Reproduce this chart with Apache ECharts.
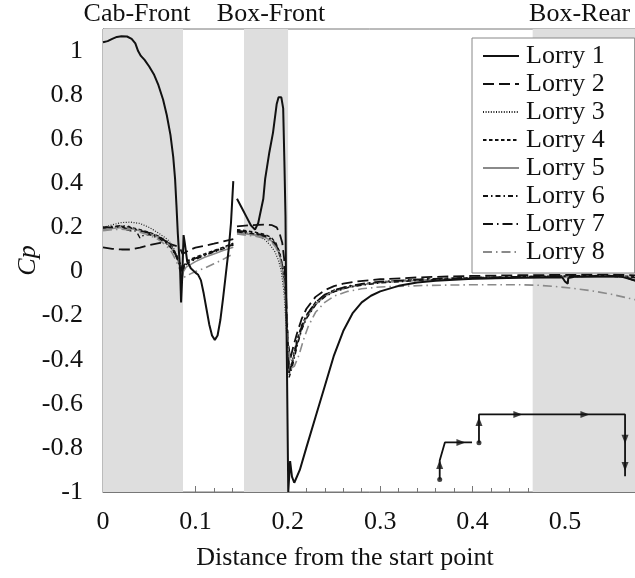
<!DOCTYPE html>
<html>
<head>
<meta charset="utf-8">
<script src="https://cdn.jsdelivr.net/npm/echarts@6/dist/echarts.min.js"></script>
<style>html,body{margin:0;padding:0;background:#fff;}#chart{width:635px;height:578px;}</style>
</head>
<body>
<div id="chart"></div>
<script>
// ---------- data ----------
const seriesNames = ['Lorry 1','Lorry 2','Lorry 3','Lorry 4','Lorry 5','Lorry 6','Lorry 7','Lorry 8'];
const xTickLabels = [0, 0.1, 0.2, 0.3, 0.4, 0.5];
const yTickLabels = [-1, -0.8, -0.6, -0.4, -0.2, 0, 0.2, 0.4, 0.6, 0.8, 1];
const regions = [['Cab-Front', 0, 0.0866], ['Box-Front', 0.1526, 0.2003], ['Box-Rear', 0.465, 0.6]];

const lorry1 = [[0,1.04],[0.005,1.045],[0.01,1.055],[0.015,1.064],[0.02,1.067],[0.026,1.066],[0.031,1.055],[0.035,1.035],[0.038,1.0],[0.041,0.978],[0.045,0.96],[0.05,0.93],[0.055,0.895],[0.06,0.845],[0.065,0.78],[0.069,0.71],[0.073,0.62],[0.076,0.52],[0.078,0.42],[0.0795,0.3],[0.081,0.17],[0.0825,0.07],[0.0835,0.0],[0.0845,-0.14],[0.0858,-0.02],[0.0872,0.165],[0.0885,0.13],[0.091,0.05],[0.095,0.015],[0.1,-0.005],[0.103,-0.015],[0.106,-0.04],[0.109,-0.1],[0.112,-0.17],[0.115,-0.24],[0.118,-0.29],[0.121,-0.31],[0.124,-0.29],[0.127,-0.22],[0.13,-0.12],[0.133,-0.01],[0.136,0.1],[0.1385,0.22],[0.141,0.41],[0.143,null],[0.145,0.33],[0.15,0.29],[0.155,0.25],[0.16,0.21],[0.1645,0.19],[0.168,0.22],[0.171,0.28],[0.1735,0.33],[0.1755,0.42],[0.18,0.54],[0.184,0.63],[0.188,0.76],[0.19,0.79],[0.193,0.79],[0.195,0.74],[0.1963,0.5],[0.1975,0.25],[0.198,0.0],[0.199,-0.4],[0.2,-0.8],[0.2005,-1.0],[0.2025,-0.86],[0.2045,-0.93],[0.207,-0.958],[0.213,-0.9],[0.22,-0.8],[0.23,-0.66],[0.24,-0.52],[0.25,-0.38],[0.26,-0.27],[0.27,-0.19],[0.28,-0.14],[0.29,-0.11],[0.3,-0.09],[0.32,-0.065],[0.34,-0.05],[0.36,-0.042],[0.4,-0.033],[0.45,-0.028],[0.497,-0.026],[0.5,-0.045],[0.503,-0.055],[0.5035,-0.03],[0.51,-0.024],[0.56,-0.022],[0.575,-0.04],[0.584,-0.05]];
const lorry2 = [[0,0.11],[0.01,0.103],[0.02,0.1],[0.03,0.1],[0.04,0.108],[0.05,0.12],[0.062,0.13],[0.072,0.125],[0.08,0.115],[0.084,0.1],[0.086,0.08],[0.088,0.085],[0.095,0.1],[0.1,0.108],[0.11,0.117],[0.12,0.126],[0.13,0.136],[0.141,0.147],[0.143,null],[0.145,0.205],[0.16,0.21],[0.175,0.213],[0.183,0.21],[0.188,0.2],[0.191,0.175],[0.194,0.13],[0.196,0.06],[0.198,-0.1],[0.2,-0.3],[0.2025,-0.4],[0.206,-0.34],[0.21,-0.28],[0.215,-0.215],[0.22,-0.17],[0.23,-0.115],[0.24,-0.085],[0.25,-0.066],[0.26,-0.055],[0.275,-0.045],[0.3,-0.035],[0.35,-0.025],[0.4,-0.02],[0.45,-0.017],[0.5,-0.015],[0.55,-0.014],[0.584,-0.018]];
const lorry3 = [[0,0.2],[0.01,0.212],[0.02,0.222],[0.03,0.224],[0.04,0.218],[0.05,0.2],[0.058,0.18],[0.065,0.16],[0.07,0.145],[0.075,0.12],[0.079,0.08],[0.082,0.045],[0.085,0.025],[0.088,0.03],[0.092,0.045],[0.1,0.06],[0.11,0.075],[0.12,0.09],[0.13,0.105],[0.141,0.125],[0.143,null],[0.145,0.18],[0.155,0.175],[0.165,0.165],[0.175,0.145],[0.181,0.12],[0.186,0.09],[0.19,0.05],[0.193,0.0],[0.196,-0.1],[0.199,-0.3],[0.2015,-0.47],[0.205,-0.42],[0.21,-0.33],[0.215,-0.26],[0.22,-0.21],[0.23,-0.15],[0.24,-0.11],[0.25,-0.09],[0.265,-0.072],[0.28,-0.06],[0.3,-0.05],[0.35,-0.037],[0.4,-0.03],[0.45,-0.025],[0.5,-0.022],[0.55,-0.02],[0.584,-0.03]];
const lorry4 = [[0,0.195],[0.01,0.2],[0.02,0.205],[0.03,0.2],[0.04,0.19],[0.05,0.178],[0.06,0.16],[0.068,0.14],[0.074,0.115],[0.079,0.08],[0.083,0.04],[0.086,0.01],[0.088,0.03],[0.092,0.05],[0.1,0.065],[0.11,0.08],[0.12,0.095],[0.13,0.11],[0.141,0.128],[0.143,null],[0.145,0.19],[0.155,0.185],[0.165,0.178],[0.175,0.168],[0.182,0.155],[0.187,0.13],[0.191,0.09],[0.194,0.03],[0.197,-0.06],[0.199,-0.25],[0.2015,-0.46],[0.205,-0.4],[0.21,-0.31],[0.215,-0.245],[0.22,-0.2],[0.23,-0.14],[0.24,-0.105],[0.25,-0.085],[0.265,-0.068],[0.28,-0.057],[0.3,-0.047],[0.35,-0.034],[0.4,-0.028],[0.45,-0.024],[0.5,-0.02],[0.55,-0.018],[0.584,-0.025]];
const lorry5 = [[0,0.19],[0.01,0.195],[0.02,0.2],[0.03,0.195],[0.04,0.185],[0.05,0.172],[0.06,0.155],[0.068,0.135],[0.074,0.11],[0.079,0.07],[0.083,0.03],[0.0855,-0.04],[0.087,0.0],[0.09,0.02],[0.1,0.045],[0.11,0.065],[0.12,0.08],[0.13,0.095],[0.141,0.11],[0.143,null],[0.145,0.175],[0.155,0.17],[0.165,0.165],[0.175,0.155],[0.182,0.14],[0.187,0.115],[0.191,0.08],[0.194,0.02],[0.197,-0.08],[0.199,-0.25],[0.2015,-0.45],[0.205,-0.41],[0.21,-0.33],[0.215,-0.26],[0.22,-0.21],[0.23,-0.15],[0.24,-0.112],[0.25,-0.09],[0.265,-0.072],[0.28,-0.06],[0.3,-0.05],[0.35,-0.038],[0.4,-0.032],[0.45,-0.028],[0.5,-0.025],[0.55,-0.023],[0.584,-0.03]];
const lorry6 = [[0,0.2],[0.01,0.205],[0.02,0.208],[0.028,0.205],[0.033,0.19],[0.037,0.175],[0.04,0.152],[0.044,0.165],[0.05,0.168],[0.06,0.15],[0.068,0.13],[0.074,0.105],[0.079,0.07],[0.083,0.03],[0.086,0.0],[0.088,0.02],[0.092,0.04],[0.1,0.055],[0.11,0.072],[0.12,0.088],[0.13,0.103],[0.141,0.12],[0.143,null],[0.145,0.18],[0.155,0.175],[0.165,0.17],[0.175,0.16],[0.182,0.145],[0.187,0.12],[0.191,0.08],[0.194,0.02],[0.197,-0.07],[0.199,-0.25],[0.2015,-0.48],[0.205,-0.43],[0.21,-0.34],[0.215,-0.265],[0.22,-0.215],[0.23,-0.152],[0.24,-0.115],[0.25,-0.092],[0.265,-0.073],[0.28,-0.062],[0.3,-0.052],[0.35,-0.038],[0.4,-0.031],[0.45,-0.026],[0.5,-0.023],[0.55,-0.021],[0.584,-0.03]];
const lorry7 = [[0,0.2],[0.01,0.2],[0.02,0.205],[0.026,0.19],[0.03,0.185],[0.035,0.19],[0.04,0.185],[0.05,0.175],[0.06,0.158],[0.068,0.137],[0.074,0.112],[0.079,0.075],[0.083,0.035],[0.0855,0.0],[0.088,0.025],[0.092,0.045],[0.1,0.06],[0.11,0.076],[0.12,0.092],[0.13,0.107],[0.141,0.122],[0.143,null],[0.145,0.185],[0.155,0.18],[0.165,0.173],[0.175,0.163],[0.182,0.148],[0.187,0.123],[0.191,0.085],[0.194,0.025],[0.197,-0.06],[0.199,-0.22],[0.2015,-0.46],[0.205,-0.41],[0.21,-0.32],[0.215,-0.25],[0.22,-0.2],[0.23,-0.14],[0.24,-0.105],[0.25,-0.085],[0.265,-0.067],[0.28,-0.056],[0.3,-0.046],[0.35,-0.034],[0.4,-0.028],[0.45,-0.024],[0.5,-0.021],[0.55,-0.02],[0.565,-0.025],[0.575,-0.04],[0.584,-0.05]];
const lorry8 = [[0,0.185],[0.01,0.19],[0.02,0.192],[0.03,0.188],[0.04,0.178],[0.05,0.165],[0.06,0.145],[0.068,0.12],[0.074,0.09],[0.079,0.05],[0.083,0.01],[0.0865,-0.03],[0.09,-0.02],[0.1,0.0],[0.11,0.015],[0.12,0.035],[0.13,0.055],[0.141,0.08],[0.143,null],[0.145,0.17],[0.155,0.165],[0.165,0.16],[0.175,0.15],[0.182,0.135],[0.187,0.11],[0.191,0.07],[0.194,0.01],[0.197,-0.1],[0.2,-0.3],[0.203,-0.44],[0.207,-0.43],[0.212,-0.38],[0.217,-0.31],[0.222,-0.25],[0.23,-0.185],[0.24,-0.14],[0.25,-0.112],[0.265,-0.09],[0.28,-0.078],[0.3,-0.07],[0.35,-0.063],[0.4,-0.06],[0.45,-0.06],[0.47,-0.062],[0.49,-0.068],[0.51,-0.077],[0.53,-0.088],[0.55,-0.103],[0.57,-0.122],[0.584,-0.135]];

// inset schematic of the measuring path (data coordinates)
const insetPathA = [[0.3644,-0.943],[0.3644,-0.857],[0.370,-0.775],[0.3994,-0.775]];
const insetPathB = [[0.4069,-0.777],[0.4069,-0.648],[0.565,-0.648],[0.565,-0.928]];
const insetArrows = [[0.3644,-0.875,0],[0.3874,-0.775,-90],[0.4069,-0.68,0],[0.449,-0.648,-90],[0.5216,-0.648,-90],[0.565,-0.761,180],[0.565,-0.884,180]];
const insetDots = [[0.3644,-0.943],[0.4069,-0.777]];

// ---------- styling ----------
const FONT = "'Liberation Serif','Times New Roman',Times,serif";
const FS = 26;
const lorryData = [lorry1, lorry2, lorry3, lorry4, lorry5, lorry6, lorry7, lorry8];
const lorryStyles = [
  {color:'#111', width:2, type:'solid'},
  {color:'#111', width:1.8, type:[11,5]},
  {color:'#222', width:1.2, type:[1,1.6]},
  {color:'#111', width:1.5, type:[3.5,2.5]},
  {color:'#8a8a8a', width:1.6, type:'solid'},
  {color:'#111', width:1.4, type:[5,3,1.5,3]},
  {color:'#111', width:1.8, type:[10,4,1.5,4]},
  {color:'#8a8a8a', width:1.6, type:[9,4,1.5,4]}
];
const X_MAX = 0.584;
const PX_PER_UNIT_X = 924;

const chart = echarts.init(document.getElementById('chart'), null, {renderer:'canvas'});

const series = [];
series.push({
  name: 'regions', type: 'line', data: [], silent: true,
  markArea: {
    silent: true,
    itemStyle: {color: '#dedede'},
    label: {show: true, position: 'top', distance: 2, fontFamily: FONT, fontSize: FS, color: '#111'},
    data: regions.map((r, i) => [
      {name: r[0], xAxis: r[1], label: {offset: [[-6,0],[5,0],[-8,0]][i]}},
      {xAxis: r[2]}
    ])
  }
});
seriesNames.forEach((n, i) => {
  series.push({
    name: n, type: 'line', data: lorryData[i], symbol: 'none', showSymbol: false,
    lineStyle: lorryStyles[i], itemStyle: {color: lorryStyles[i].color},
    connectNulls: false, animation: false, z: 3 + (i === 0 ? 8 : 0)
  });
});
[insetPathA, insetPathB].forEach((p, k) => {
  series.push({
    name: 'inset' + k, type: 'line', data: p, symbol: 'none', showSymbol: false,
    lineStyle: {color: '#111', width: 1.8}, z: 12
  });
});
series.push({
  name: 'insetArrows', type: 'scatter', z: 13,
  data: insetArrows.map(a => ({value: [a[0], a[1]], symbolRotate: a[2]})),
  symbol: 'triangle', symbolSize: [7, 9], itemStyle: {color: '#111'}
});
series.push({
  name: 'insetDots', type: 'scatter', z: 13, data: insetDots,
  symbol: 'circle', symbolSize: 5, itemStyle: {color: '#111'}
});

const axisColor = '#777';
chart.setOption({
  animation: false,
  backgroundColor: '#fff',
  grid: {left: 103, top: 29, bottom: 86, width: X_MAX * PX_PER_UNIT_X, containLabel: false, outerBoundsMode: 'none',
    show: true, borderColor: axisColor, borderWidth: 1, backgroundColor: 'transparent'},
  legend: {
    data: seriesNames, orient: 'vertical', left: 472, top: 38,
    backgroundColor: '#fff', borderColor: '#888', borderWidth: 1,
    padding: [4, 30, 7, 10], itemGap: 0, itemWidth: 36, itemHeight: 14,
    itemStyle: {color: 'rgba(0,0,0,0)', borderWidth: 0, opacity: 0},
    textStyle: {fontFamily: FONT, fontSize: FS, color: '#111', lineHeight: 28, padding: [0,0,0,2]}
  },
  xAxis: {
    type: 'value', min: 0, max: X_MAX, interval: 0.1,
    axisLine: {show: true, onZero: false, lineStyle: {color: axisColor}},
    axisTick: {show: true, inside: true, length: 6, lineStyle: {color: axisColor}},
    minorTick: {show: true, splitNumber: 5, length: 4, lineStyle: {color: axisColor}},
    splitLine: {show: false},
    axisLabel: {fontFamily: FONT, fontSize: FS, color: '#111', margin: 17, showMaxLabel: false,
      formatter: v => (xTickLabels.some(t => Math.abs(t - v) < 1e-9) ? String(+v.toFixed(1)) : '')}
  },
  yAxis: {
    type: 'value', min: -1, max: 1.1, interval: 0.2,
    name: 'Cp', nameLocation: 'middle', nameGap: 62, nameRotate: 90, nameMoveOverlap: false,
    nameTextStyle: {fontFamily: FONT, fontSize: FS, fontStyle: 'italic', color: '#111'},
    axisLine: {show: true, onZero: false, lineStyle: {color: axisColor}},
    axisTick: {show: true, inside: true, length: 6, lineStyle: {color: axisColor}},
    minorTick: {show: true, splitNumber: 5, length: 4, lineStyle: {color: axisColor}},
    splitLine: {show: false},
    axisLabel: {fontFamily: FONT, fontSize: FS, color: '#111', margin: 20, showMaxLabel: false,
      formatter: v => (yTickLabels.some(t => Math.abs(t - v) < 1e-9) ? String(+v.toFixed(1)) : '')}
  },
  graphic: [{
    type: 'text', x: 345, y: 558,
    style: {text: 'Distance from the start point', font: FS + 'px ' + FONT, fill: '#111',
      textAlign: 'center', align: 'center', textVerticalAlign: 'middle', verticalAlign: 'middle'}
  }],
  series: series
});
</script>
</body>
</html>
